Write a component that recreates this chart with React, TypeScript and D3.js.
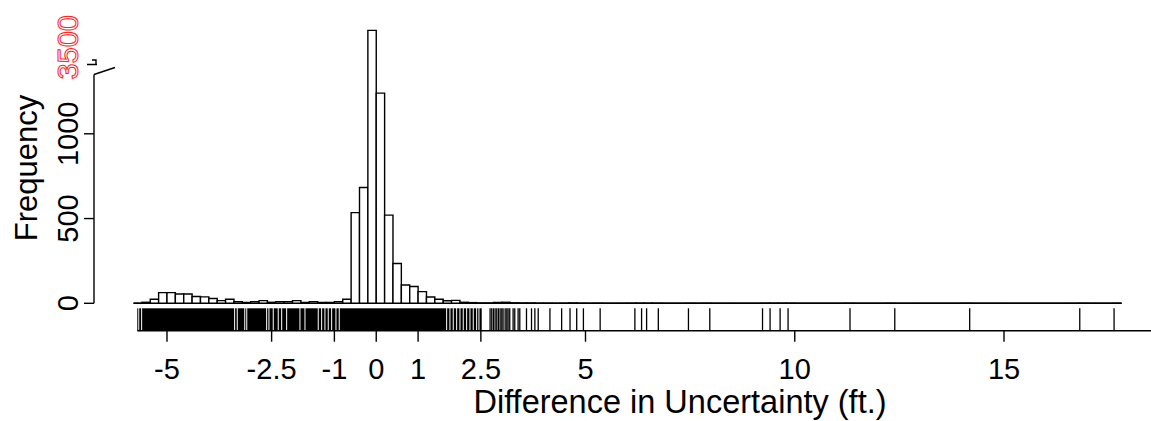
import React from "react";
import * as d3 from "d3";

// Histogram bin counts, 0.2 ft wide bins starting at -5.8 (last bin: 2.4 to 2.6)
const binStart = -5.8;
const binWidth = 0.2;
const headCounts = [
  0, 6, 24, 63, 63, 55, 55, 40, 38, 28, 16, 24, 10, 5, 10, 16, 6, 10, 10, 16,
  5, 10, 5, 5, 10, 24, 535, 683, 3600, 1240, 520, 235, 108, 99, 69, 37, 24, 15,
  17, 6, 4, 2,
];
const histEnd = 17.8;

// Individual rug ticks in the sparse upper tail
const tailValues = [
  2.72, 2.76, 2.8, 2.84, 2.88, 2.92, 2.96, 3.0, 3.03, 3.08, 3.12, 3.15, 3.19,
  3.27, 3.31, 3.39, 3.43, 3.59, 3.71, 3.79, 3.87, 4.15, 4.43, 4.63, 4.79, 4.95,
  5.35, 6.18, 6.34, 6.46, 6.74, 7.46, 7.97, 9.23, 9.41, 9.65, 9.84, 11.32,
  12.39, 14.18, 16.81, 17.63,
];

// Stretches where rug ticks overlap into solid coverage [from, to]
const rugBands: [number, number][] = [
  [-5.71, -5.687], [-5.663, -5.618], [-5.594, -3.396], [-3.372, -3.333],
  [-3.309, -3.154], [-3.13, -3.106], [-3.082, -2.631], [-2.607, -2.576],
  [-2.552, -2.473], [-2.449, -2.354], [-2.33, -2.272], [-2.248, -2.153],
  [-2.129, -1.835], [-1.811, -1.715], [-1.691, -1.398], [-1.374, -1.317],
  [-1.293, -1.238], [-1.214, -1.159], [-1.135, -1.078], [-1.054, -0.975],
  [-0.951, -0.896], [-0.872, 1.67], [1.694, 1.749], [1.773, 1.828],
  [1.852, 1.909], [1.933, 1.988], [2.012, 2.067], [2.091, 2.148],
  [2.172, 2.227], [2.251, 2.306], [2.33, 2.387], [2.411, 2.442],
  [2.466, 2.52],
];

const xTicks = [-5, -2.5, -1, 0, 1, 2.5, 5, 10, 15];
const xTickLabels = ["-5", "-2.5", "-1", "0", "1", "2.5", "5", "10", "15"];
const yTicks = [0, 500, 1000];
const yTickLabels = ["0", "500", "1000"];
const yUpperTick = 3500;
const yUpperLabel = "3500";
const gapFrom = 1350;
const gapTo = 3340;
const yTop = 3700;

const W = 1151;
const H = 421;
const FONT = "'Liberation Sans', Arial, Helvetica, sans-serif";

export default function App() {
  const x = d3.scaleLinear().domain([-6.744, 18.744]).range([94, 1160.7]);
  const k = 0.1695;
  const y0 = 303.3;
  const yBreak = y0 - gapFrom * k;
  const y = d3
    .scaleLinear()
    .domain([0, gapFrom, gapTo, yTop])
    .range([y0, yBreak, yBreak, yBreak - (yTop - gapTo) * k]);

  // bins: explicit head counts, tail bins counted from the tail observations
  const headEnd = binStart + headCounts.length * binWidth;
  const tailThresholds = d3.range(
    Math.round((histEnd - headEnd) / binWidth) + 1
  ).map((i) => +(headEnd + i * binWidth).toFixed(1));
  const tailBins = d3
    .bin()
    .domain([headEnd, histEnd])
    .thresholds(tailThresholds)(tailValues.filter((v) => v >= headEnd));
  const bars = [
    ...headCounts.map((c, i) => ({
      x0: binStart + i * binWidth,
      x1: binStart + (i + 1) * binWidth,
      count: c,
    })),
    ...tailBins.map((b) => ({ x0: b.x0 as number, x1: b.x1 as number, count: b.length })),
  ];

  const rugTop = 308.3;
  const rugBottom = 330.7;
  const axisY = 330.7;

  return (
    <svg
      width={W}
      height={H}
      style={{ position: "absolute", left: 0, top: 0, background: "#fff" }}
      fontFamily={FONT}
    >
      <rect width={W} height={H} fill="#fff" />

      {/* histogram */}
      <line
        x1={x(binStart)}
        x2={x(histEnd)}
        y1={y(0)}
        y2={y(0)}
        stroke="#000"
        strokeWidth={1.4}
      />
      {bars.map((b, i) => (
        <path
          key={i}
          d={`M${x(b.x0)},${y(0)}V${y(b.count)}H${x(b.x1)}V${y(0)}Z`}
          fill="#fff"
          stroke="#000"
          strokeWidth={1.4}
        />
      ))}

      {/* rug */}
      {rugBands.map(([a, b], i) => (
        <rect
          key={"band" + i}
          x={x(a)}
          width={Math.max(1, x(b) - x(a))}
          y={rugTop}
          height={rugBottom - rugTop}
          fill="#000"
        />
      ))}
      {tailValues.map((v, i) => (
        <line
          key={"rug" + i}
          x1={x(v)}
          x2={x(v)}
          y1={rugTop}
          y2={rugBottom}
          stroke="#000"
          strokeWidth={1.3}
        />
      ))}

      {/* x axis */}
      <line
        x1={x(rugBands[0][0])}
        x2={W}
        y1={axisY}
        y2={axisY}
        stroke="#000"
        strokeWidth={1.4}
      />
      {xTicks.map((t, i) => (
        <g key={"xt" + i}>
          <line
            x1={x(t)}
            x2={x(t)}
            y1={axisY}
            y2={axisY + 11}
            stroke="#000"
            strokeWidth={1.4}
          />
          <text x={x(t)} y={379} fontSize={29} textAnchor="middle" fill="#000">
            {xTickLabels[i]}
          </text>
        </g>
      ))}
      <text x={680} y={413} fontSize={32.5} textAnchor="middle" fill="#000">
        Difference in Uncertainty (ft.)
      </text>

      {/* y axis with break */}
      <line
        x1={94}
        x2={94}
        y1={y(0)}
        y2={y(gapFrom)}
        stroke="#000"
        strokeWidth={1.4}
      />
      <path
        d={`M94,${y(gapFrom)} L115,${y(gapFrom) - 7} M87,${y(gapFrom) - 10} L97,${y(gapFrom) - 10} M92,${y(gapFrom) - 14.5} L96,${y(gapFrom) - 14.5} L96,${y(gapFrom) - 10}`}
        fill="none"
        stroke="#000"
        strokeWidth={1.4}
      />
      {yTicks.map((t, i) => (
        <g key={"yt" + i}>
          <line x1={84} x2={94} y1={y(t)} y2={y(t)} stroke="#000" strokeWidth={1.4} />
          <text
            transform={`translate(78,${y(t)}) rotate(-90)`}
            fontSize={29}
            textAnchor="middle"
            fill="#000"
          >
            {yTickLabels[i]}
          </text>
        </g>
      ))}
      <text
        transform={`translate(78,${y(yUpperTick)}) rotate(-90)`}
        fontSize={29}
        textAnchor="middle"
        fill="#fff"
        stroke="#ff2020"
        strokeWidth={1}
      >
        {yUpperLabel}
      </text>
      <text
        transform={`translate(37,168) rotate(-90)`}
        fontSize={31}
        textAnchor="middle"
        fill="#000"
      >
        Frequency
      </text>
    </svg>
  );
}
